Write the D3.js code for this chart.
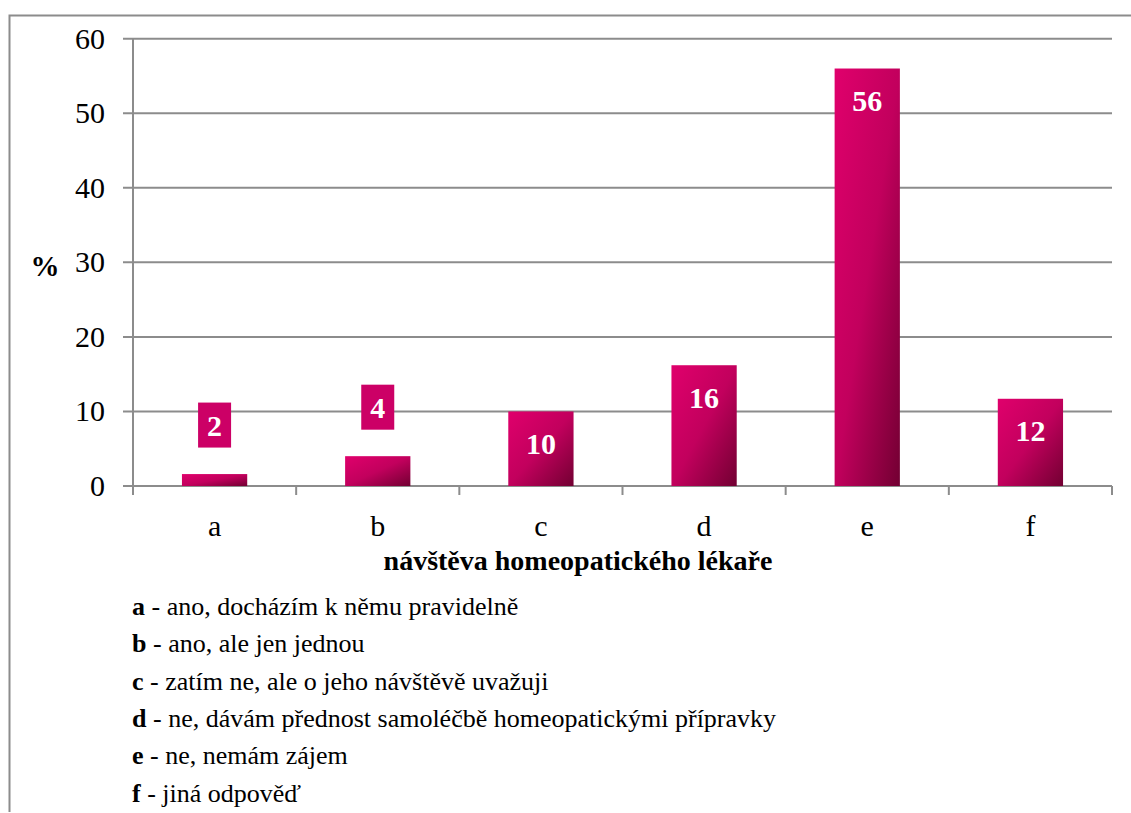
<!DOCTYPE html>
<html><head><meta charset="utf-8">
<script src="https://cdn.jsdelivr.net/npm/d3@7"></script>
<style>
html,body{margin:0;padding:0;background:#fff;}
svg{display:block;}
svg text{font-family:"Liberation Serif","Times New Roman",serif;}
</style></head>
<body>
<svg id="c" width="1131" height="813"></svg>
<script>
const categories = ["a","b","c","d","e","f"];
const values = [1.6, 4.0, 10.0, 16.2, 56.0, 11.7];
const yTicks = [0,10,20,30,40,50,60];
const xTitle = "návštěva homeopatického lékaře";
const yTitle = "%";
const legendKeys = ["a","b","c","d","e","f"];
const legendTexts = [
  " - ano, docházím k němu pravidelně",
  " - ano, ale jen jednou",
  " - zatím ne, ale o jeho návštěvě uvažuji",
  " - ne, dávám přednost samoléčbě homeopatickými přípravky",
  " - ne, nemám zájem",
  " - jiná odpověď"
];

(function(){
const svg = d3.select("#c");
const pL = 133, pR = 1112, pT = 38.7, pB = 486;
const x = d3.scaleBand().domain(categories).range([pL, pR]).paddingInner(0.6).paddingOuter(0.3);
const y = d3.scaleLinear().domain([0,60]).range([pB, pT]);
const grey = "#8c8c8c";

// outer border (top + left)
svg.append("path").attr("d","M9.5,812 V15.5 H1131").attr("fill","none").attr("stroke",grey).attr("stroke-width",2);

const defs = svg.append("defs");
const g = defs.append("linearGradient").attr("id","barGrad").attr("x1",0).attr("y1",0).attr("x2",1).attr("y2",1);
g.append("stop").attr("offset","0%").attr("stop-color","#e0006c");
g.append("stop").attr("offset","50%").attr("stop-color","#c2005d");
g.append("stop").attr("offset","100%").attr("stop-color","#720032");

// gridlines
svg.append("g").selectAll("line").data(yTicks).join("line")
  .attr("x1", pL-10).attr("x2", pR)
  .attr("y1", d=>y(d)).attr("y2", d=>y(d))
  .attr("stroke", grey).attr("stroke-width", 2);

// y axis line
svg.append("line").attr("x1",pL).attr("x2",pL).attr("y1",pT).attr("y2",pB+9)
  .attr("stroke",grey).attr("stroke-width",2);

// x ticks at category boundaries
const bounds = d3.range(categories.length+1).map(i => pL + i*(pR-pL)/categories.length);
svg.append("g").selectAll("line").data(bounds).join("line")
  .attr("x1", d=>d).attr("x2", d=>d).attr("y1", pB).attr("y2", pB+9)
  .attr("stroke", grey).attr("stroke-width", 2);

// y tick labels
svg.append("g").selectAll("text").data(yTicks).join("text")
  .attr("x", pL-28).attr("y", d=>y(d)).attr("dy","0.33em")
  .attr("text-anchor","end").attr("font-size",30).attr("fill","#000").text(d=>d);

// y title
svg.append("text").attr("x",45).attr("y",266).attr("dy","0.33em").attr("text-anchor","middle")
  .attr("font-size",29).attr("font-weight","bold").text(yTitle);

// bars
svg.append("g").selectAll("rect").data(values).join("rect")
  .attr("x",(d,i)=>x(categories[i])).attr("width",x.bandwidth())
  .attr("y",d=>y(d)).attr("height",d=>pB-y(d))
  .attr("fill","url(#barGrad)");

// data labels
const lab = svg.append("g");
values.forEach((v,i)=>{
  const cx = x(categories[i]) + x.bandwidth()/2;
  const h = pB - y(v);
  if (h > 60) {
    lab.append("text").attr("x",cx).attr("y",y(v)+32).attr("dy","0.35em")
      .attr("text-anchor","middle").attr("font-size",30).attr("font-weight","bold")
      .attr("fill","#fff").text(Math.round(v));
  } else {
    const cy = y(v) - 49;
    lab.append("rect").attr("x",cx-16.5).attr("y",cy-22.5).attr("width",33).attr("height",45)
      .attr("fill","#cc0066");
    lab.append("text").attr("x",cx).attr("y",cy).attr("dy","0.35em")
      .attr("text-anchor","middle").attr("font-size",30).attr("font-weight","bold")
      .attr("fill","#fff").text(Math.round(v));
  }
});

// category labels
svg.append("g").selectAll("text").data(categories).join("text")
  .attr("x", d=>x(d)+x.bandwidth()/2).attr("y", 536)
  .attr("text-anchor","middle").attr("font-size",30).text(d=>d);

// x title
svg.append("text").attr("x",578).attr("y",570).attr("text-anchor","middle")
  .attr("font-size",28).attr("font-weight","bold").text(xTitle);

// legend
const leg = svg.append("g");
legendKeys.forEach((k,i)=>{
  const t = leg.append("text").attr("x",132).attr("y",615 + i*37.3).attr("font-size",26);
  t.append("tspan").attr("font-weight","bold").text(k);
  t.append("tspan").text(legendTexts[i]);
});
})();
</script>
</body></html>
